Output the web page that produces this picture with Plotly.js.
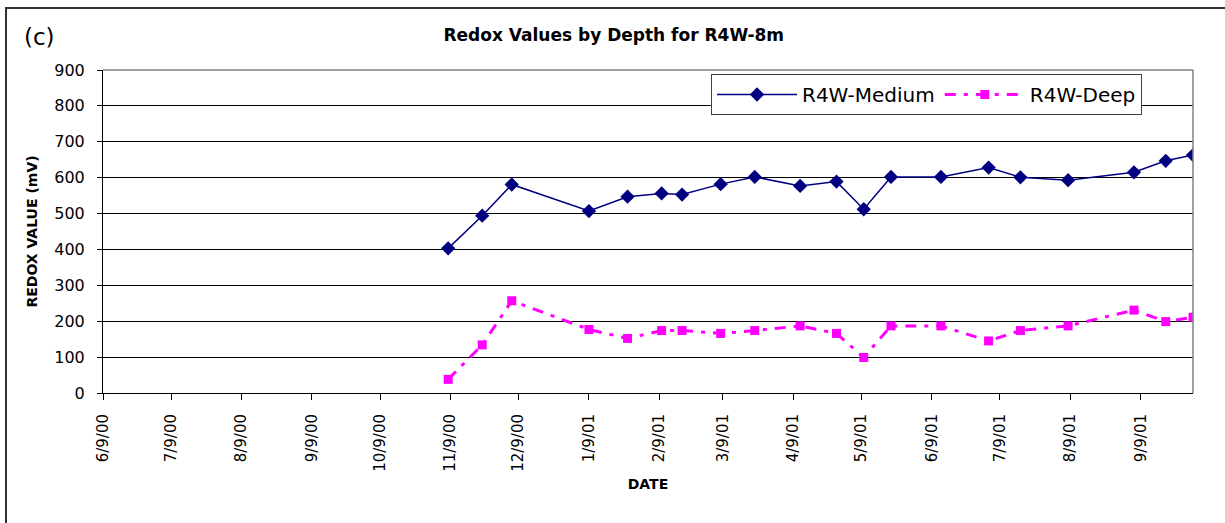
<!DOCTYPE html>
<html>
<head>
<meta charset="utf-8">
<script src="https://cdn.plot.ly/plotly-3.0.1.min.js"></script>
<style>
  html, body { margin: 0; padding: 0; background: #fff; }
  #chart { width: 1225px; height: 523px; }
</style>
</head>
<body>
<div id="chart"></div>
<script>
// ---- Data ----
const sampleDates = ['2000-11-08','2000-11-23','2000-12-06','2001-01-09','2001-01-26','2001-02-10','2001-02-19','2001-03-08','2001-03-23','2001-04-12','2001-04-28','2001-05-10','2001-05-22','2001-06-13','2001-07-04','2001-07-18','2001-08-08','2001-09-06','2001-09-20','2001-10-02'];
const mediumValues = [403,494,581,507,547,556,553,582,602,577,589,512,602,602,628,601,593,615,647,663];
const deepValues   = [38,134,257,177,152,174,174,166,174,187,166,99,187,187,145,174,187,231,199,211];
const tickDates  = ['2000-06-09','2000-07-09','2000-08-09','2000-09-09','2000-10-09','2000-11-09','2000-12-09','2001-01-09','2001-02-09','2001-03-09','2001-04-09','2001-05-09','2001-06-09','2001-07-09','2001-08-09','2001-09-09'];
const tickLabels = ['6/9/00','7/9/00','8/9/00','9/9/00','10/9/00','11/9/00','12/9/00','1/9/01','2/9/01','3/9/01','4/9/01','5/9/01','6/9/01','7/9/01','8/9/01','9/9/01'];
const seriesNames = ['R4W-Medium','R4W-Deep'];
const xRange = ['2000-06-09','2001-10-02'];
const yTicks = [0,100,200,300,400,500,600,700,800,900];

const FONT = 'DejaVu Sans, Liberation Sans, Arial, sans-serif';

const traces = [
  {
    x: sampleDates, y: mediumValues, name: seriesNames[0],
    type: 'scatter', mode: 'lines+markers',
    line: { color: '#000080', width: 1.5 },
    marker: { symbol: 'diamond', size: 11, color: '#000080' }
  },
  {
    x: sampleDates, y: deepValues, name: seriesNames[1],
    type: 'scatter', mode: 'lines+markers',
    line: { color: '#FF00FF', width: 3, dash: '11px,8px,4px,8px' },
    marker: { symbol: 'square', size: 9, color: '#FF00FF' }
  }
];

const layout = {
  width: 1225, height: 523,
  margin: { l: 103, r: 32, t: 70, b: 130, pad: 0 },
  paper_bgcolor: '#ffffff', plot_bgcolor: '#ffffff',
  font: { family: FONT, color: '#000' },
  showlegend: true,
  title: {
    text: '<b>Redox Values by Depth for R4W-8m</b>',
    font: { family: FONT, size: 17, color: '#000' },
    xref: 'container', yref: 'container',
    x: 0.501, y: 1 - 35/523, xanchor: 'center', yanchor: 'middle'
  },
  xaxis: {
    type: 'date', range: xRange,
    tickmode: 'array', tickvals: tickDates, ticktext: tickLabels,
    tickangle: -90, tickfont: { family: FONT, size: 15, color: '#000' },
    ticks: 'outside', ticklen: 6, tickcolor: '#000', tickwidth: 1,
    ticklabelstandoff: 8,
    showgrid: false, zeroline: false,
    showline: true, linecolor: '#000', linewidth: 1,
    title: { text: '<b>DATE</b>', font: { family: FONT, size: 14, color: '#000' }, standoff: 8 },
    automargin: false, fixedrange: true
  },
  yaxis: {
    range: [0, 900], tickmode: 'array', tickvals: yTicks,
    tickfont: { family: FONT, size: 16, color: '#000' },
    ticks: 'outside', ticklen: 5, tickcolor: '#000', tickwidth: 1,
    ticklabelstandoff: 9,
    showgrid: true, gridcolor: '#000', gridwidth: 1,
    zeroline: false,
    showline: true, linecolor: '#000', linewidth: 1,
    title: { text: '<b>REDOX VALUE (mV)</b>', font: { family: FONT, size: 14, color: '#000' }, standoff: 13 },
    automargin: false, fixedrange: true
  },
  legend: {
    orientation: 'h',
    x: (711 - 103) / 1090, y: (393 - 74) / 323,
    xanchor: 'left', yanchor: 'top',
    bgcolor: '#ffffff', bordercolor: '#404040', borderwidth: 1,
    font: { family: FONT, size: 20, color: '#000' },
    itemwidth: 80, tracegroupgap: 0
  },
  annotations: [
    {
      text: '(c)', xref: 'paper', yref: 'paper',
      x: (39 - 103) / 1090, y: (393 - 37) / 323,
      xanchor: 'center', yanchor: 'middle', showarrow: false,
      font: { family: FONT, size: 23, color: '#000' }
    }
  ],
  shapes: [
    // plot-area frame (top/right, gray)
    { type: 'line', xref: 'paper', yref: 'paper', x0: 1, x1: 1, y0: 0, y1: 1, line: { color: '#808080', width: 1.5 } },
    { type: 'line', xref: 'paper', yref: 'paper', x0: 0, x1: 1, y0: 1, y1: 1, line: { color: '#808080', width: 1.5 } },
    // outer chart border (left/top visible; rest cropped)
    { type: 'rect', xref: 'paper', yref: 'paper', layer: 'below',
      x0: (6 - 103) / 1090, x1: 1.2, y0: -1, y1: (393 - 8) / 323,
      line: { color: '#303030', width: 2 } }
  ]
};

Plotly.newPlot('chart', traces, layout, { staticPlot: true, displayModeBar: false });
</script>
</body>
</html>
